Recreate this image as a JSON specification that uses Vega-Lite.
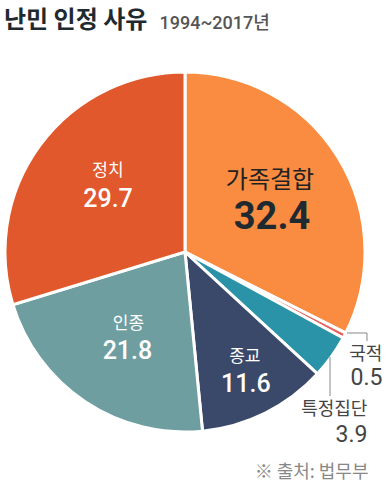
{
  "$schema": "https://vega.github.io/schema/vega-lite/v6.json",
  "autosize": {"type": "none"},
  "width": 370,
  "height": 370,
  "padding": {"left": 0, "top": 67, "right": 15, "bottom": 59},
  "background": "white",
  "title": {"text": "난민 인정 사유", "anchor": "start", "frame": "group", "orient": "top", "offset": -38, "dx": 4, "fontSize": 24, "font": "Noto Sans CJK KR", "fontWeight": "bold", "color": "#1F2A30", "baseline": "alphabetic"},
  "config": {"view": {"stroke": null}},
  "data": {"values": [
    {"category": "가족결합", "value": 32.4},
    {"category": "국적", "value": 0.5},
    {"category": "특정집단", "value": 3.9},
    {"category": "종교", "value": 11.6},
    {"category": "인종", "value": 21.8},
    {"category": "정치", "value": 29.7}
  ]},
  "transform": [{"window": [{"op": "row_number", "as": "idx"}]}],
  "layer": [
    {
      "mark": {"type": "arc", "outerRadius": 180, "stroke": "white", "strokeWidth": 3},
      "encoding": {
        "theta": {"field": "value", "type": "quantitative", "stack": true},
        "order": {"field": "idx", "type": "quantitative"},
        "color": {"field": "category", "type": "nominal", "legend": null,
          "scale": {"domain": ["가족결합", "국적", "특정집단", "종교", "인종", "정치"],
                    "range": ["#F98C40", "#E8605E", "#2A93A8", "#3A4869", "#6F9EA0", "#E0582C"]}}
      }
    },
    {
      "mark": {"type": "text", "radius": 101, "dx": -1, "dy": -18, "font": "Noto Sans CJK KR", "fontSize": 24, "fill": "#222", "align": "center", "baseline": "middle"},
      "encoding": {"theta": {"field": "value", "type": "quantitative", "stack": true}, "order": {"field": "idx", "type": "quantitative"},
        "text": {"condition": {"test": "datum.category === '가족결합'", "field": "category"}, "value": ""}}
    },
    {
      "mark": {"type": "text", "radius": 101, "dx": 1, "dy": 19, "font": "Roboto", "fontSize": 38, "fontWeight": "bold", "fill": "#1E2A30", "align": "center", "baseline": "middle"},
      "encoding": {"theta": {"field": "value", "type": "quantitative", "stack": true}, "order": {"field": "idx", "type": "quantitative"},
        "text": {"condition": {"test": "datum.category === '가족결합'", "field": "value", "type": "quantitative", "format": ".1f"}, "value": ""}}
    },
    {
      "mark": {"type": "text", "radius": 102, "dx": 5, "dy": -20, "font": "Noto Sans CJK KR", "fontSize": 17, "fill": "white", "align": "center", "baseline": "middle"},
      "encoding": {"theta": {"field": "value", "type": "quantitative", "stack": true}, "order": {"field": "idx", "type": "quantitative"},
        "text": {"condition": {"test": "datum.category === '정치'", "field": "category"}, "value": ""}}
    },
    {
      "mark": {"type": "text", "radius": 102, "dx": 5, "dy": 8, "font": "Roboto", "fontSize": 25, "fontWeight": 500, "fill": "white", "align": "center", "baseline": "middle"},
      "encoding": {"theta": {"field": "value", "type": "quantitative", "stack": true}, "order": {"field": "idx", "type": "quantitative"},
        "text": {"condition": {"test": "datum.category === '정치'", "field": "value", "type": "quantitative", "format": ".1f"}, "value": ""}}
    },
    {
      "mark": {"type": "text", "radius": 102, "dx": 0, "dy": -13, "font": "Noto Sans CJK KR", "fontSize": 17, "fill": "white", "align": "center", "baseline": "middle"},
      "encoding": {"theta": {"field": "value", "type": "quantitative", "stack": true}, "order": {"field": "idx", "type": "quantitative"},
        "text": {"condition": {"test": "datum.category === '인종'", "field": "category"}, "value": ""}}
    },
    {
      "mark": {"type": "text", "radius": 102, "dx": -1, "dy": 14, "font": "Roboto", "fontSize": 25, "fontWeight": 500, "fill": "white", "align": "center", "baseline": "middle"},
      "encoding": {"theta": {"field": "value", "type": "quantitative", "stack": true}, "order": {"field": "idx", "type": "quantitative"},
        "text": {"condition": {"test": "datum.category === '인종'", "field": "value", "type": "quantitative", "format": ".1f"}, "value": ""}}
    },
    {
      "mark": {"type": "text", "radius": 132, "dx": 1, "dy": -13, "font": "Noto Sans CJK KR", "fontSize": 17, "fill": "white", "align": "center", "baseline": "middle"},
      "encoding": {"theta": {"field": "value", "type": "quantitative", "stack": true}, "order": {"field": "idx", "type": "quantitative"},
        "text": {"condition": {"test": "datum.category === '종교'", "field": "category"}, "value": ""}}
    },
    {
      "mark": {"type": "text", "radius": 132, "dx": 2, "dy": 14, "font": "Roboto", "fontSize": 25, "fontWeight": 500, "fill": "white", "align": "center", "baseline": "middle"},
      "encoding": {"theta": {"field": "value", "type": "quantitative", "stack": true}, "order": {"field": "idx", "type": "quantitative"},
        "text": {"condition": {"test": "datum.category === '종교'", "field": "value", "type": "quantitative", "format": ".1f"}, "value": ""}}
    },
    {
      "mark": {"type": "text", "radius": 180, "dx": 38, "dy": 19, "font": "Noto Sans CJK KR", "fontSize": 18, "fill": "#444", "align": "right", "baseline": "middle"},
      "encoding": {"theta": {"field": "value", "type": "quantitative", "stack": true}, "order": {"field": "idx", "type": "quantitative"},
        "text": {"condition": {"test": "datum.category === '국적'", "field": "category"}, "value": ""}}
    },
    {
      "mark": {"type": "text", "radius": 180, "dx": 38, "dy": 42, "font": "Roboto", "fontSize": 23, "fill": "#444", "align": "right", "baseline": "middle"},
      "encoding": {"theta": {"field": "value", "type": "quantitative", "stack": true}, "order": {"field": "idx", "type": "quantitative"},
        "text": {"condition": {"test": "datum.category === '국적'", "field": "value", "type": "quantitative", "format": ".1f"}, "value": ""}}
    },
    {
      "mark": {"type": "text", "radius": 180, "dx": 36, "dy": 53, "font": "Noto Sans CJK KR", "fontSize": 18, "fill": "#444", "align": "right", "baseline": "middle"},
      "encoding": {"theta": {"field": "value", "type": "quantitative", "stack": true}, "order": {"field": "idx", "type": "quantitative"},
        "text": {"condition": {"test": "datum.category === '특정집단'", "field": "category"}, "value": ""}}
    },
    {
      "mark": {"type": "text", "radius": 180, "dx": 36, "dy": 78, "font": "Roboto", "fontSize": 23, "fill": "#444", "align": "right", "baseline": "middle"},
      "encoding": {"theta": {"field": "value", "type": "quantitative", "stack": true}, "order": {"field": "idx", "type": "quantitative"},
        "text": {"condition": {"test": "datum.category === '특정집단'", "field": "value", "type": "quantitative", "format": ".1f"}, "value": ""}}
    },
    {
      "data": {"values": [{}]},
      "mark": {"type": "rule", "color": "#888", "strokeWidth": 1},
      "encoding": {
        "x": {"datum": 0.9, "type": "quantitative", "scale": {"domain": [-1.0278, 1.0278], "nice": false, "zero": false},
          "axis": {"title": "※ 출처: 법무부", "domain": false, "ticks": false, "labels": false, "grid": false, "titleX": 368, "titleY": 40, "titleAlign": "right", "titleBaseline": "alphabetic", "titleFont": "Noto Sans CJK KR", "titleFontSize": 18, "titleFontWeight": "normal", "titleColor": "#888"}},
        "y": {"datum": -0.45, "type": "quantitative", "scale": {"domain": [-1.0278, 1.0278], "nice": false, "zero": false},
          "axis": {"title": "1994~2017년", "domain": false, "ticks": false, "labels": false, "grid": false, "titleAngle": 0, "titleX": 159, "titleY": -39, "titleAlign": "left", "titleBaseline": "alphabetic", "titleFont": "Roboto, Noto Sans CJK KR", "titleFontSize": 18, "titleFontWeight": 500, "titleColor": "#555"}},
        "x2": {"datum": 1.0111},
        "y2": {"datum": -0.45}
      }
    },
    {
      "data": {"values": [{}]},
      "mark": {"type": "rule", "color": "#888", "strokeWidth": 1},
      "encoding": {
        "x": {"datum": 1.0111, "type": "quantitative"},
        "y": {"datum": -0.45, "type": "quantitative"},
        "y2": {"datum": -0.4944}
      }
    },
    {
      "data": {"values": [{}]},
      "mark": {"type": "rule", "color": "#888", "strokeWidth": 1},
      "encoding": {
        "x": {"datum": 0.8056, "type": "quantitative"},
        "y": {"datum": -0.5833, "type": "quantitative"},
        "y2": {"datum": -0.8}
      }
    }
  ]
}
